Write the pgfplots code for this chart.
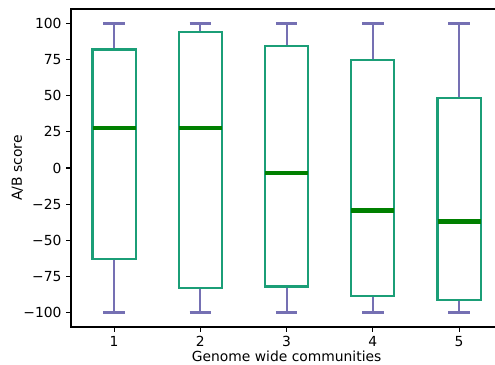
\documentclass[border=0pt]{standalone}
\usepackage{fontspec}
\setmainfont{DejaVu Sans}
\usepackage{pgfplots}
\pgfplotsset{compat=1.18}
\usepgfplotslibrary{statistics}
\definecolor{boxc}{HTML}{1B9E77}
\definecolor{whc}{HTML}{7570B3}
\definecolor{medc}{HTML}{008000}
\begin{document}
\begin{tikzpicture}
\useasboundingbox (-53.25pt,-27.75pt) rectangle (318pt,245.25pt);
\clip (-53.25pt,-27.75pt) rectangle (318pt,245.25pt);
\begin{axis}[
  at={(0,0)}, anchor=south west,
  scale only axis, width=323.4pt, height=238.5pt,
  xmin=0.5, xmax=5.5, ymin=-110, ymax=110,
  axis line style={line width=0.8pt},
  xtick={1,2,3,4,5}, xticklabels={1,2,3,4,5},
  ytick={-100,-75,-50,-25,0,25,50,75,100},
  yticklabels={−100,−75,−50,−25,0,25,50,75,100},
  tick align=outside, tick pos=left,
  major tick length=3.6pt,
  every tick/.style={black, line width=0.8pt},
  ticklabel style={font=\fontsize{10.4}{12}\selectfont},
  label style={font=\fontsize{10.4}{12}\selectfont},
  xlabel={Genome wide communities},
  ylabel={A/B score},
  ylabel style={yshift=-6.75pt},
  xlabel style={yshift=4pt},
  boxplot/draw direction=y,
  boxplot/box extend=0.5,
  boxplot/whisker extend=0.25,
]
\pgfplotsset{
  mybox/.style={draw=boxc, line width=1.6pt, solid, fill=none,
    boxplot/every whisker/.style={draw=whc, line width=1.6pt},
    boxplot/every median/.style={draw=medc, line width=3.3pt}}
}
\addplot[mybox, boxplot prepared={draw position=1, lower whisker=-100, lower quartile=-63, median=27.5, upper quartile=82, upper whisker=100}] coordinates {};
\addplot[mybox, boxplot prepared={draw position=2, lower whisker=-100, lower quartile=-83, median=27.5, upper quartile=94, upper whisker=100}] coordinates {};
\addplot[mybox, boxplot prepared={draw position=3, lower whisker=-100, lower quartile=-82, median=-3.5, upper quartile=84.5, upper whisker=100}] coordinates {};
\addplot[mybox, boxplot prepared={draw position=4, lower whisker=-100, lower quartile=-88.5, median=-29.5, upper quartile=75, upper whisker=100}] coordinates {};
\addplot[mybox, boxplot prepared={draw position=5, lower whisker=-100, lower quartile=-91.5, median=-37, upper quartile=48.5, upper whisker=100}] coordinates {};
\end{axis}
\end{tikzpicture}
\end{document}
